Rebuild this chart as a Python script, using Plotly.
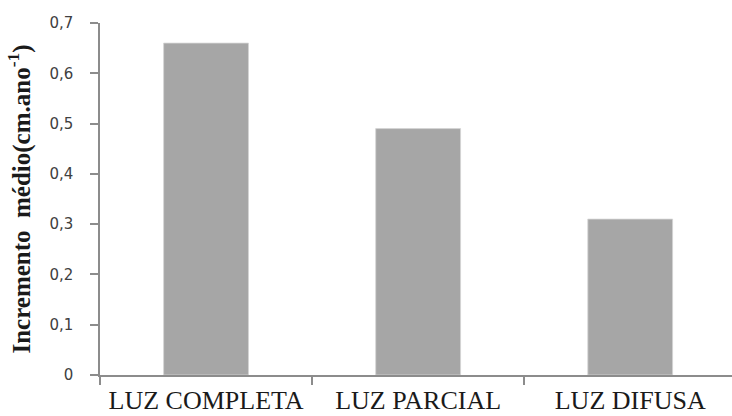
import plotly.graph_objects as go

categories = ["LUZ COMPLETA", "LUZ PARCIAL", "LUZ DIFUSA"]
values = [0.66, 0.49, 0.31]
y_tickvals = [0, 0.1, 0.2, 0.3, 0.4, 0.5, 0.6, 0.7]
y_ticktext = ["0", "0,1", "0,2", "0,3", "0,4", "0,5", "0,6", "0,7"]

fig = go.Figure(go.Bar(
    x=categories, y=values,
    marker=dict(color="#a6a6a6", line=dict(color="#d4d4d4", width=0.8)),
))

axis_gray = "#8c8c8c"
fig.update_layout(
    width=732, height=416,
    margin=dict(l=100, r=0, t=23, b=41, autoexpand=False),
    paper_bgcolor="white", plot_bgcolor="white",
    bargap=0.6, showlegend=False,
    xaxis=dict(
        type="category", range=[-0.5, 2.48], automargin=False,
        showline=True, linecolor=axis_gray, linewidth=1.5,
        ticks="outside", tickson="boundaries", ticklen=8, tickcolor=axis_gray, tickwidth=1.5,
        showgrid=False, ticklabelstandoff=1, tickangle=0,
        tickfont=dict(family="Liberation Serif, Times New Roman, serif", size=26, color="#1a1a1a"),
    ),
    yaxis=dict(
        range=[0, 0.7], tickvals=y_tickvals, ticktext=y_ticktext, automargin=False,
        showline=True, linecolor=axis_gray, linewidth=1.5,
        ticks="outside", ticklen=8, tickcolor=axis_gray, tickwidth=1.5,
        showgrid=False, zeroline=False,
        ticklabelstandoff=14,
        tickfont=dict(family="Verdana, DejaVu Sans, sans-serif", size=15, color="#404040"),
        title=dict(
            text="<b>Incremento  médio(cm.ano<sup>-1</sup>)</b>",
            font=dict(family="Liberation Serif, Times New Roman, serif", size=25, color="#1a1a1a"),
            standoff=12,
        ),
    ),
)

fig.write_html("out.html", config={"displayModeBar": False},
               post_script="document.body.style.margin='0';document.body.style.overflow='hidden';")
